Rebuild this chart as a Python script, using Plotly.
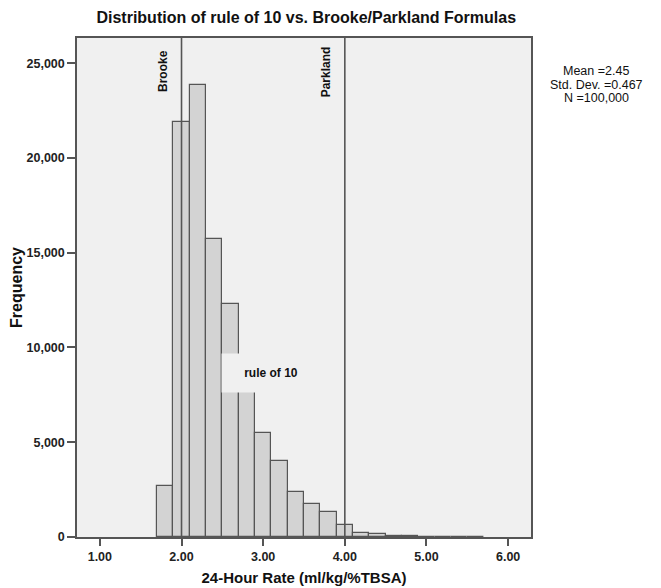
import plotly.graph_objects as go

# Histogram bins (width 0.2) - centers and frequencies
bin_centers = [1.8, 2.0, 2.2, 2.4, 2.6, 2.8, 3.0, 3.2, 3.4, 3.6, 3.8, 4.0,
               4.2, 4.4, 4.6, 4.8, 5.0, 5.2, 5.4, 5.6]
frequencies = [2700, 21900, 23850, 15700, 12300, 7700, 5500, 4000, 2400, 1750,
               1300, 630, 230, 150, 70, 35, 15, 8, 4, 2]
bin_width = 0.2

formula_names = ["Brooke", "Parkland"]
formula_values = [2.0, 4.0]

x_ticks = [1.0, 2.0, 3.0, 4.0, 5.0, 6.0]
x_tick_labels = ["1.00", "2.00", "3.00", "4.00", "5.00", "6.00"]
y_ticks = [0, 5000, 10000, 15000, 20000, 25000]
y_tick_labels = ["0", "5,000", "10,000", "15,000", "20,000", "25,000"]

stats_lines = ["Mean =2.45", "Std. Dev. =0.467", "N =100,000"]
curve_label = "rule of 10"
curve_label_pos = (3.10, 8650)

FONT = "Liberation Sans, Arial, sans-serif"
DARK = "#555555"
BG = "#f0f0f0"

# page body has an 8px margin, so the figure is sized to fill the rest of the window
OFF = 8
W, H = 661 - OFF, 588 - OFF
L, R, T, B = 77 - OFF, 130, 38 - OFF, 51
pw, ph = W - L - R, H - T - B


def px_to_paper(xw, yw):
    """window pixel -> paper coords"""
    xd, yd = xw - OFF, yw - OFF
    return (xd - L) / pw, (H - B - yd) / ph


fig = go.Figure()
fig.add_trace(go.Bar(
    x=bin_centers, y=frequencies, width=bin_width,
    marker=dict(color="#d3d3d3", line=dict(color=DARK, width=1.2)),
    showlegend=False, hoverinfo="x+y",
))

shapes = []
annotations = []
for name, val in zip(formula_names, formula_values):
    shapes.append(dict(type="line", xref="x", yref="paper", x0=val, x1=val,
                       y0=0, y1=1, line=dict(color=DARK, width=1.6)))
    annotations.append(dict(x=val, y=px_to_paper(0, 71.5)[1], xref="x", yref="paper",
                            text="<b>%s</b>" % name,
                            textangle=-90, showarrow=False, xanchor="right", yanchor="middle",
                            xshift=-10,
                            font=dict(family=FONT, size=12, color="#111")))

annotations.append(dict(x=curve_label_pos[0], y=curve_label_pos[1], xref="x", yref="y",
                        text="<b>%s</b>" % curve_label,
                        showarrow=False, xanchor="center", yanchor="middle",
                        width=96, height=36, bgcolor=BG,
                        font=dict(family=FONT, size=12, color="#111")))
for i, line in enumerate(stats_lines):
    sx, sy = px_to_paper(596, 71 + 13.5 * i)
    annotations.append(dict(x=sx, y=sy, xref="paper", yref="paper",
                            text=line, showarrow=False, xanchor="center", yanchor="middle",
                            font=dict(family=FONT, size=12.5, color="#111")))

fig.update_layout(
    width=W, height=H,
    margin=dict(l=L, r=R, t=T, b=B),
    paper_bgcolor="white", plot_bgcolor=BG,
    bargap=0,
    title=dict(text="<b>Distribution of rule of 10 vs. Brooke/Parkland Formulas</b>",
               xref="paper", x=0.505, xanchor="center", y=1 - (17.5 - OFF) / H, yanchor="middle",
               font=dict(family=FONT, size=16, color="#111")),
    shapes=shapes, annotations=annotations,
    font=dict(family=FONT, color="#111"),
)
fig.update_xaxes(
    range=[0.72, 6.28], tickvals=x_ticks, ticktext=["<b>%s</b>" % t for t in x_tick_labels],
    ticks="outside", ticklen=7, tickcolor=DARK, tickwidth=1.5,
    showline=True, linecolor=DARK, linewidth=1.5, mirror=True,
    showgrid=False, zeroline=False, automargin=False,
    tickfont=dict(family=FONT, size=12.5, color="#222"),
    title=dict(text="<b>24-Hour Rate (ml/kg/%TBSA)</b>", standoff=10,
               font=dict(family=FONT, size=15, color="#111")),
)
fig.update_yaxes(
    range=[0, 26330], tickvals=y_ticks, ticktext=["<b>%s</b>" % t for t in y_tick_labels],
    ticks="outside", ticklen=8, tickcolor=DARK, tickwidth=1.5,
    showline=True, linecolor=DARK, linewidth=1.5, mirror=True,
    showgrid=False, zeroline=False, automargin=False,
    tickfont=dict(family=FONT, size=12.5, color="#222"),
    title=dict(text="<b>Frequency</b>", standoff=4,
               font=dict(family=FONT, size=16, color="#111")),
)

fig.write_html("out.html")
